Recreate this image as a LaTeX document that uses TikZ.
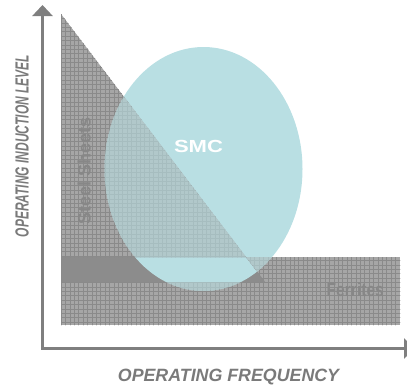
\documentclass[tikz,border=0pt]{standalone}
\usepackage{fontspec}
\setmainfont{Liberation Sans}
\usetikzlibrary{arrows.meta}
\definecolor{axisgray}{HTML}{7F7F7F}
\definecolor{labelgray}{HTML}{7A7A7A}
\definecolor{gridfill}{HTML}{A6A6A6}
\definecolor{gridline}{HTML}{8A8A8A}
\definecolor{bandfill}{HTML}{8C8C8C}
\definecolor{smcteal}{HTML}{B9DFE3}
\definecolor{regiontext}{HTML}{878787}
\tikzset{
  axisline/.style={draw=axisgray, line width=2.7pt},
  axislabel/.style={text=labelgray, font=\fontsize{17.8}{20}\selectfont\bfseries\itshape, inner sep=0pt, anchor=base},
  regionlabel/.style={text=regiontext, font=\fontsize{18}{20}\selectfont\bfseries, inner sep=0pt, anchor=base},
  gridlines/.style={draw=gridline, line width=0.5pt},
}
\begin{document}
\begin{tikzpicture}[x=1pt,y=-1pt]
\useasboundingbox (0,0) rectangle (407,386);
% regions
\coordinate (st) at (61,14);
\coordinate (sr) at (265,282);
\coordinate (sb) at (61,282);
% steel sheets triangle
\fill[gridfill] (st) -- (sr) -- (sb) -- cycle;
% ferrites rectangle
\fill[gridfill] (61,257) rectangle (400,325);
% overlap band
\begin{scope}
  \clip (st) -- (sr) -- (sb) -- cycle;
  \fill[bandfill] (61,257) rectangle (400,283);
\end{scope}
% grid lines
\begin{scope}
  \clip (st) -- (sr) -- (sb) -- cycle (61,257) rectangle (400,325);
  \foreach \i in {0,...,78} {
    \draw[gridlines] ({61+4.4*\i},10) -- ({61+4.4*\i},330);
  }
  \foreach \j in {0,...,73} {
    \draw[gridlines] (58,{14+4.4*\j}) -- (402,{14+4.4*\j});
  }
\end{scope}
% SMC ellipse
\fill[smcteal] (203.5,169) ellipse [x radius=99, y radius=122];
\begin{scope}
  \clip (st) -- (sr) -- (sb) -- cycle (61,257) rectangle (400,325);
  \fill[gridfill] (203.5,169) ellipse [x radius=99, y radius=122];
  \begin{scope}
    \clip (st) -- (sr) -- (sb) -- cycle;
    \fill[bandfill] (61,257) rectangle (400,283);
  \end{scope}
  \foreach \i in {0,...,78} {
    \draw[gridlines] ({61+4.4*\i},10) -- ({61+4.4*\i},330);
  }
  \foreach \j in {0,...,73} {
    \draw[gridlines] (58,{14+4.4*\j}) -- (402,{14+4.4*\j});
  }
  \fill[smcteal, fill opacity=0.6] (203.5,169) ellipse [x radius=99, y radius=122];
\end{scope}
% labels inside
\node[text=white, font=\fontsize{17.5}{20}\selectfont\bfseries, inner sep=0pt, anchor=base] (smc) at (198.5,152.3) {\scalebox{1.26}[1]{SMC}};
\node[regionlabel, rotate=90] (steel) at (90.7,171) {Steel Sheets};
\node[regionlabel, font=\fontsize{19}{20}\selectfont\bfseries] (ferr) at (355.3,296.7) {\scalebox{0.82}[1]{Ferrites}};
% axes
\coordinate (origin) at (42.5,348.5);
\coordinate (ytop) at (42.5,5);
\coordinate (xend) at (415,348.5);
\draw[axisline, {Triangle[length=11pt,width=20pt]}-{Triangle[length=11pt,width=20pt]}] (ytop) -- (origin) -- (xend);
% axis labels
\node[axislabel] (xlab) at (228.5,381) {OPERATING FREQUENCY};
\node[axislabel, font=\fontsize{19}{20}\selectfont\bfseries\itshape, rotate=90] (ylab) at (28.5,146) {\scalebox{0.63}[1]{OPERATING INDUCTION LEVEL}};
\end{tikzpicture}
\end{document}
